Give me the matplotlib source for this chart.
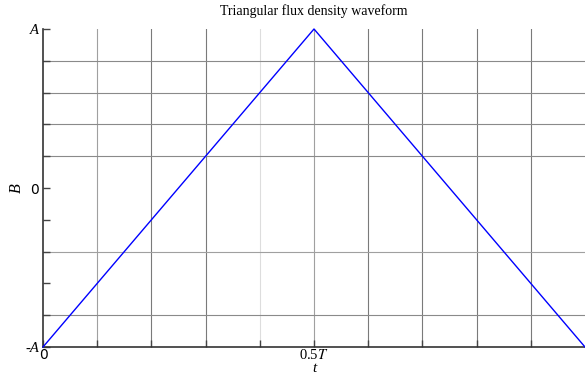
import matplotlib
matplotlib.use("Agg")
import matplotlib.pyplot as plt
import numpy as np

plt.rcParams["mathtext.fontset"] = "stix"

# Triangular waveform over one period T, amplitude A
t_vals = [0.0, 0.5, 1.0]
b_vals = [-1.0, 1.0, -1.0]

x_ticks = [0.0, 0.5]
x_ticklabels = ["0", "0.5$T$"]
y_ticks = [-1.0, 0.0, 1.0]
y_ticklabels = ["-A", "0", "A"]

x_grid = [0.1, 0.2, 0.3, 0.4, 0.5, 0.6, 0.7, 0.8, 0.9]
x_grid_gray = ["#a0a0a0", "#7a7a7a", "#7a7a7a", "#dddddd", "#a0a0a0",
               "#7a7a7a", "#7a7a7a", "#7a7a7a", "#7a7a7a"]
y_grid = [0.8, 0.6, 0.4, 0.2, -0.4, -0.8]
y_grid_gray = ["#8a8a8a", "#8a8a8a", "#8a8a8a", "#8a8a8a", "#a0a0a0", "#8a8a8a"]

serif = "Liberation Serif"

fig = plt.figure(figsize=(5.85, 3.76), dpi=100)
ax = fig.add_axes([43 / 585, 29 / 376, 542 / 585, 318 / 376])

for xv, c in zip(x_grid, x_grid_gray):
    ax.axvline(xv, color=c, lw=0.8, zorder=1)
for yv, c in zip(y_grid, y_grid_gray):
    ax.axhline(yv, color=c, lw=0.8, zorder=1)

ax.plot(t_vals, b_vals, color="#0000ff", lw=1.0, clip_on=False, zorder=3)

ax.set_xlim(0, 1)
ax.set_ylim(-1, 1)

for s in ["top", "right"]:
    ax.spines[s].set_visible(False)
for s in ["left", "bottom"]:
    ax.spines[s].set_color("#333333")
    ax.spines[s].set_linewidth(1.2)

ax.set_xticks(x_ticks)
ax.set_xticklabels(x_ticklabels)
ax.set_xticks(np.arange(0.1, 1.0, 0.1), minor=True)
ax.set_yticks(y_ticks)
ax.set_yticks([v for v in np.arange(-0.8, 0.9, 0.2) if abs(v) > 1e-9], minor=True)

ax.tick_params(axis="both", which="both", direction="in", length=5,
               width=1.0, color="#444444", pad=3)
ax.tick_params(axis="x", which="major", labelsize=10, pad=0.5)

labels_y = ax.set_yticklabels(y_ticklabels)
for lab in labels_y:
    lab.set_fontfamily(serif)
    lab.set_fontstyle("italic")
    lab.set_fontsize(10.5)
labels_y[1].set_fontfamily("DejaVu Sans")
labels_y[1].set_fontstyle("normal")
labels_y[1].set_fontsize(10)

xl = ax.get_xticklabels()
xl[0].set_fontfamily("DejaVu Sans")
xl[1].set_fontfamily(serif)
xl[1].set_fontsize(10.5)

ax.set_xlabel("t", fontsize=11, fontfamily=serif, fontstyle="italic")
ax.xaxis.set_label_coords(0.5, -14.5 / 318, transform=ax.transAxes)
ax.set_ylabel("B", fontsize=11.5, fontfamily=serif, fontstyle="italic")
ax.yaxis.set_label_coords(-18 / 542, 0.5, transform=ax.transAxes)
ax.set_title("Triangular flux density waveform", fontfamily=serif,
             fontsize=10, pad=10)

fig.savefig("out.png", dpi=100)
